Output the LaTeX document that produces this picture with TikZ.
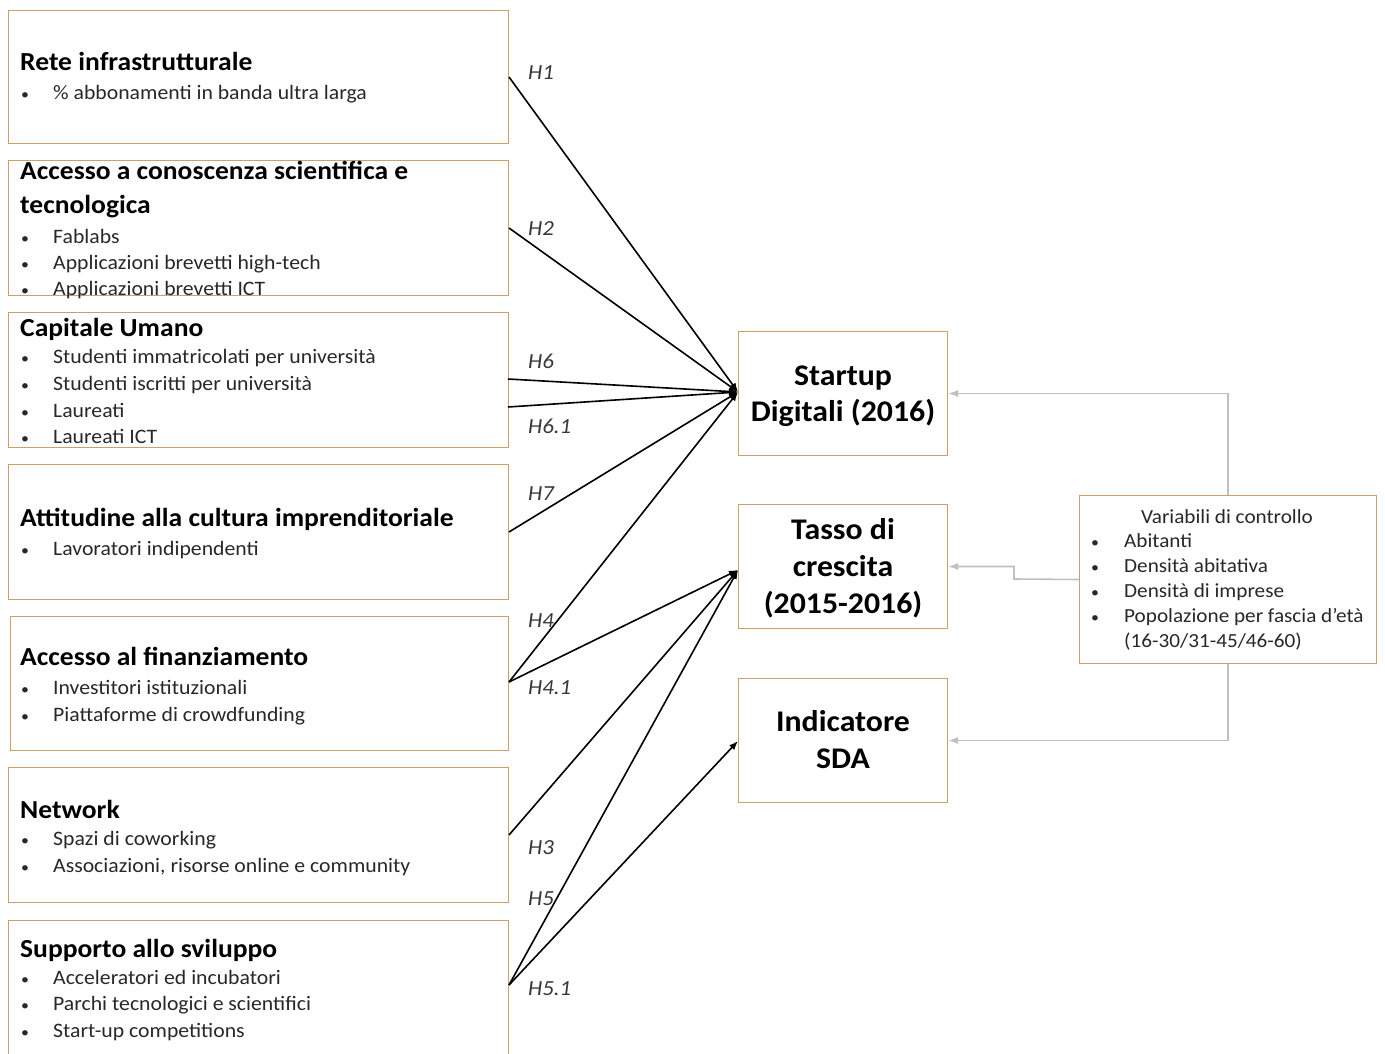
\documentclass[tikz,border=0pt]{standalone}
\usepackage{fontspec}
\setmainfont{Carlito}[FakeStretch=1.06]
\usetikzlibrary{arrows.meta}
\definecolor{boxc}{RGB}{206,160,104}
\definecolor{ctrl}{RGB}{192,192,192}
\definecolor{lab}{RGB}{55,55,55}
\definecolor{txt}{RGB}{40,40,40}
\tikzset{
  lbox/.style={draw=boxc, line width=1pt, anchor=north west, inner sep=0pt},
  ttl/.style={anchor=base west, inner sep=0pt, font=\fontsize{26}{30}\selectfont\bfseries, text=black},
  itm/.style={anchor=base west, inner sep=0pt, font=\fontsize{20.5}{23}\selectfont, text=txt},
  bul/.style={anchor=base west, inner sep=0pt, font=\fontsize{15}{18}\selectfont, text=txt},
  rtxt/.style={anchor=base, inner sep=0pt, font=\fontsize{30}{34}\selectfont\bfseries, text=black},
  ctxt/.style={anchor=base west, inner sep=0pt, font=\fontsize{20}{23}\selectfont, text=txt},
  cbul/.style={anchor=base west, inner sep=0pt, font=\fontsize{15}{18}\selectfont, text=txt},
  hyp/.style={anchor=base west, inner sep=0pt, font=\fontsize{21.5}{24}\selectfont\itshape, text=lab},
  conn/.style={draw=black, line width=1.6pt, -{Latex[length=9pt,width=7pt]}},
  cconn/.style={draw=ctrl, line width=1.6pt, -{Latex[length=10pt,width=7pt]}},
}
\begin{document}
\begin{tikzpicture}[x=1pt,y=-1pt]
\useasboundingbox (0,0) rectangle (1385,1054);
\fill[white] (0,0) rectangle (1385,1054);
% left boxes
\node[lbox, minimum width=500pt, minimum height=133pt] (b1) at (8,10) {};
\node[lbox, minimum width=500pt, minimum height=135pt] (b2) at (8,160) {};
\node[lbox, minimum width=500pt, minimum height=135pt] (b3) at (8,312) {};
\node[lbox, minimum width=500pt, minimum height=135pt] (b4) at (8,464) {};
\node[lbox, minimum width=498pt, minimum height=134pt] (b5) at (10,616) {};
\node[lbox, minimum width=500pt, minimum height=135pt] (b6) at (8,767) {};
\node[lbox, minimum width=500pt, minimum height=140pt] (b7) at (8,920) {};
% texts box 1
\node[ttl] (t1) at (20,71) {Rete infrastrutturale};
\node[bul] (t1b1) at (21,100) {•};
\node[itm] (t1i1) at (53,100) {\% abbonamenti in banda ultra larga};
% box 2
\node[ttl] (t2) at (20,180) {Accesso a conoscenza scientifica e};
\node[ttl] (t2b) at (20,214) {tecnologica};
\node[bul] (t2b1) at (21,243) {•};
\node[itm] (t2i1) at (53,243) {Fablabs};
\node[bul] (t2b2) at (21,269) {•};
\node[itm] (t2i2) at (53,269) {Applicazioni brevetti high-tech};
\node[bul] (t2b3) at (21,295) {•};
\node[itm] (t2i3) at (53,295) {Applicazioni brevetti ICT};
% box 3
\node[ttl] (t3) at (20,336) {Capitale Umano};
\node[bul] (t3b1) at (21,363) {•};
\node[itm] (t3i1) at (53,363) {Studenti immatricolati per università};
\node[bul] (t3b2) at (21,390) {•};
\node[itm] (t3i2) at (53,390) {Studenti iscritti per università};
\node[bul] (t3b3) at (21,417) {•};
\node[itm] (t3i3) at (53,417) {Laureati};
\node[bul] (t3b4) at (21,443) {•};
\node[itm] (t3i4) at (53,443) {Laureati ICT};
% box 4
\node[ttl] (t4) at (20,526) {Attitudine alla cultura imprenditoriale};
\node[bul] (t4b1) at (21,555) {•};
\node[itm] (t4i1) at (53,555) {Lavoratori indipendenti};
% box 5
\node[ttl] (t5) at (20,665) {Accesso al finanziamento};
\node[bul] (t5b1) at (21,694) {•};
\node[itm] (t5i1) at (53,694) {Investitori istituzionali};
\node[bul] (t5b2) at (21,721) {•};
\node[itm] (t5i2) at (53,721) {Piattaforme di crowdfunding};
% box 6
\node[ttl] (t6) at (20,818) {Network};
\node[bul] (t6b1) at (21,845) {•};
\node[itm] (t6i1) at (53,845) {Spazi di coworking};
\node[bul] (t6b2) at (21,872) {•};
\node[itm] (t6i2) at (53,872) {Associazioni, risorse online e community};
% box 7
\node[ttl] (t7) at (20,957) {Supporto allo sviluppo};
\node[bul] (t7b1) at (21,984) {•};
\node[itm] (t7i1) at (53,984) {Acceleratori ed incubatori};
\node[bul] (t7b2) at (21,1010) {•};
\node[itm] (t7i2) at (53,1010) {Parchi tecnologici e scientifici};
\node[bul] (t7b3) at (21,1037) {•};
\node[itm] (t7i3) at (53,1037) {Start-up competitions};
% right boxes
\node[lbox, minimum width=209pt, minimum height=124pt] (sd) at (738,331) {};
\node[rtxt] (sd1) at (843,385) {Startup};
\node[rtxt] (sd2) at (843,421) {Digitali (2016)};
\node[lbox, minimum width=209pt, minimum height=124pt] (tc) at (738,504) {};
\node[rtxt] (tc1) at (843,539) {Tasso di};
\node[rtxt] (tc2) at (843,576) {crescita};
\node[rtxt] (tc3) at (843,613) {(2015-2016)};
\node[lbox, minimum width=209pt, minimum height=124pt] (sda) at (738,678) {};
\node[rtxt] (sda1) at (843,731) {Indicatore};
\node[rtxt] (sda2) at (843,768) {SDA};
% control box
\node[lbox, minimum width=297pt, minimum height=168pt] (cv) at (1079,495) {};
\node[ctxt, anchor=base] (cvt) at (1227,523) {Variabili di controllo};
\node[cbul] (cvb1) at (1091,547) {•};
\node[ctxt] (cvi1) at (1124,547) {Abitanti};
\node[cbul] (cvb2) at (1091,572) {•};
\node[ctxt] (cvi2) at (1124,572) {Densità abitativa};
\node[cbul] (cvb3) at (1091,597) {•};
\node[ctxt] (cvi3) at (1124,597) {Densità di imprese};
\node[cbul] (cvb4) at (1091,622) {•};
\node[ctxt] (cvi4) at (1124,622) {Popolazione per fascia d’età};
\node[ctxt] (cvi5) at (1124,647) {(16-30/31-45/46-60)};
% coordinates
\coordinate (s6) at (508,379);
\coordinate (s61) at (508,407);
\coordinate (s4) at (509,682);
\coordinate (s5) at (509,985);
\coordinate (e1) at (738,392);
\coordinate (e2) at (738,570);
\coordinate (e3) at (738,741);
\coordinate (cbend) at (1014,579);
% black connectors
\draw[conn] (b1.east) -- (e1);
\draw[conn] (b2.east) -- (e1);
\draw[conn] (s6) -- (e1);
\draw[conn] (s61) -- (e1);
\draw[conn] (b4.east) -- (e1);
\draw[conn] (s4) -- (e1);
\draw[conn] (s4) -- (e2);
\draw[conn] (b6.east) -- (e2);
\draw[conn] (s5) -- (e2);
\draw[conn] (s5) -- (e3);
% hypothesis labels
\node[hyp] (h1) at (528,80) {H1};
\node[hyp] (h2) at (528,236) {H2};
\node[hyp] (h6) at (528,368) {H6};
\node[hyp] (h61) at (528,433) {H6.1};
\node[hyp] (h7) at (528,500) {H7};
\node[hyp] (h4) at (528,627) {H4};
\node[hyp] (h41) at (528,694) {H4.1};
\node[hyp] (h3) at (528,854) {H3};
\node[hyp] (h5) at (528,905) {H5};
\node[hyp] (h51) at (528,995) {H5.1};
% control connectors
\draw[cconn] (cv.north) |- (sd.east);
\draw[cconn] (cv.west) -- (cbend) |- (tc.east);
\draw[cconn] (cv.south) |- (sda.east);
\end{tikzpicture}
\end{document}
